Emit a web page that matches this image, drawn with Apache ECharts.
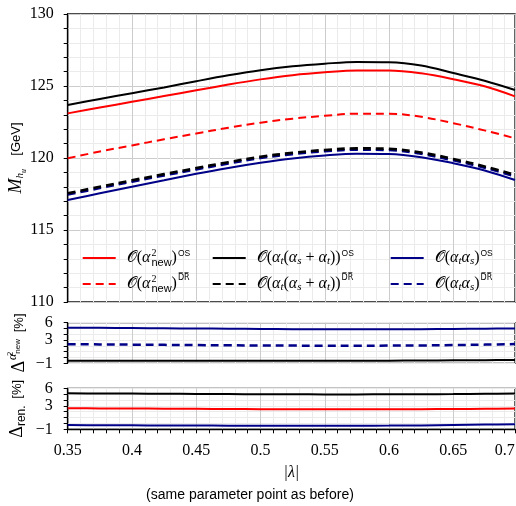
<!DOCTYPE html>
<html>
<head>
<meta charset="utf-8">
<script src="https://cdn.jsdelivr.net/npm/echarts@6/dist/echarts.min.js"></script>
<style>html,body{margin:0;padding:0;background:#fff}#c{width:516px;height:506px}</style>
</head>
<body>
<div id="c"></div>
<script>
// ---- data ----
const lambda = [0.35, 0.375, 0.4, 0.425, 0.45, 0.475, 0.5, 0.525, 0.55, 0.575, 0.6, 0.625, 0.65, 0.675, 0.698];

// top panel: M_hu [GeV]
const newOS   = [123.1, 123.5, 123.9, 124.3, 124.7, 125.1, 125.46, 125.75, 125.95, 126.08, 126.08, 125.88, 125.47, 124.96, 124.28];
const newDR   = [119.98, 120.45, 120.87, 121.3, 121.7, 122.1, 122.45, 122.73, 122.93, 123.08, 123.08, 122.86, 122.42, 121.9, 121.37];
const atsOS   = [123.68, 124.1, 124.5, 124.9, 125.33, 125.74, 126.1, 126.37, 126.55, 126.67, 126.65, 126.42, 125.9, 125.35, 124.72];
const atsDR   = [117.55, 118.0, 118.45, 118.88, 119.3, 119.71, 120.09, 120.36, 120.56, 120.67, 120.64, 120.38, 119.93, 119.4, 118.82];
const asOS    = [117.08, 117.55, 118.0, 118.45, 118.9, 119.31, 119.67, 119.97, 120.18, 120.3, 120.28, 120.06, 119.64, 119.12, 118.47];
const asDR    = [117.45, 117.9, 118.35, 118.78, 119.2, 119.61, 119.99, 120.26, 120.46, 120.57, 120.54, 120.28, 119.83, 119.3, 118.72];

// middle panel: Delta^{alpha^2_new} [%]
const dNewAsOS  = [5.15, 5.12, 5.08, 5.04, 5.0, 4.96, 4.92, 4.89, 4.87, 4.86, 4.86, 4.88, 4.92, 4.96, 5.02];
const dNewAsDR  = [2.3, 2.26, 2.22, 2.18, 2.14, 2.1, 2.07, 2.05, 2.04, 2.04, 2.05, 2.08, 2.14, 2.22, 2.32];
const dNewAtsOS = [-0.55, -0.56, -0.57, -0.58, -0.58, -0.58, -0.58, -0.58, -0.57, -0.56, -0.54, -0.52, -0.49, -0.46, -0.42];

// bottom panel: Delta_ren. [%]
const dRenAts = [5.15, 5.12, 5.1, 5.07, 5.04, 5.01, 4.99, 4.97, 4.96, 4.96, 4.97, 4.99, 5.02, 5.06, 5.1];
const dRenNew = [2.6, 2.57, 2.55, 2.52, 2.49, 2.46, 2.44, 2.42, 2.41, 2.41, 2.42, 2.44, 2.47, 2.5, 2.53];
const dRenAs  = [-0.27, -0.3, -0.32, -0.34, -0.36, -0.38, -0.39, -0.4, -0.4, -0.39, -0.37, -0.33, -0.27, -0.2, -0.14];

// tick labels
const xTickValues = [0.35, 0.4, 0.45, 0.5, 0.55, 0.6, 0.65, 0.69];
const xTickLabels = ['0.35', '0.4', '0.45', '0.5', '0.55', '0.6', '0.65', '0.7'];
const yTopTicks = [110, 115, 120, 125, 130];
const yResTickValues = [-1, 3, 6];
const yResTickLabels = ['\u22121', '3', '6'];

// ---- chart ----
const RED = '#ff0000', BLK = '#000000', BLU = '#000088';
const SERIF = 'Liberation Serif', SANS = 'Liberation Sans';
const pair = arr => lambda.map((x, i) => [x, arr[i]]);

const rich = {
  m0: {fontFamily: SERIF, fontSize: 16, color: '#000', lineHeight: 22, padding: [0, 0, 0, 6]},
  m: {fontFamily: SERIF, fontSize: 16, color: '#000', lineHeight: 22},
  it: {fontFamily: SERIF, fontStyle: 'italic', fontSize: 16, color: '#000', lineHeight: 22},
  sup0: {fontFamily: SERIF, fontSize: 10, color: '#000', width: 0, lineHeight: 22, verticalAlign: 'top', padding: [1, 0, 0, 1]},
  sub: {fontFamily: SANS, fontSize: 11, color: '#000', lineHeight: 22, verticalAlign: 'bottom', padding: [0, 0, 1, 0]},
  subi: {fontFamily: SERIF, fontStyle: 'italic', fontSize: 11, color: '#000', lineHeight: 22, verticalAlign: 'bottom', padding: [0, 0, 2, 0]},
  os: {fontFamily: SANS, fontSize: 8.5, color: '#000', lineHeight: 22, verticalAlign: 'top', padding: [2, 0, 0, 1]},
  dr: {fontFamily: 'DejaVu Sans', fontSize: 8, color: '#000', lineHeight: 22, verticalAlign: 'top', padding: [1, 0, 0, 1]}
};
const legendText = {
  os_new: '{m0|\u{1D4AA}(}{it|\u03B1}{sup0|2}{sub|new}{m|)}{os|OS}',
  dr_new: '{m0|\u{1D4AA}(}{it|\u03B1}{sup0|2}{sub|new}{m|)}{dr|D\u0305R\u0305}',
  os_ats: '{m0|\u{1D4AA}(}{it|\u03B1}{subi|t}{m|(}{it|\u03B1}{subi|s}{m| + }{it|\u03B1}{subi|t}{m|))}{os|OS}',
  dr_ats: '{m0|\u{1D4AA}(}{it|\u03B1}{subi|t}{m|(}{it|\u03B1}{subi|s}{m| + }{it|\u03B1}{subi|t}{m|))}{dr|D\u0305R\u0305}',
  os_as: '{m0|\u{1D4AA}(}{it|\u03B1}{subi|t}{it|\u03B1}{subi|s}{m|)}{os|OS}',
  dr_as: '{m0|\u{1D4AA}(}{it|\u03B1}{subi|t}{it|\u03B1}{subi|s}{m|)}{dr|D\u0305R\u0305}'
};
function mkLegend(left, names) {
  return {
    orient: 'vertical', left: left, top: 247, itemGap: 4, itemWidth: 33, itemHeight: 14,
    selectedMode: false, data: names, padding: 0,
    itemStyle: {opacity: 0, borderWidth: 0},
    formatter: n => legendText[n],
    textStyle: {rich: rich}
  };
}

const grids = [
  {left: 67.7, right: 1, top: 14, height: 288},
  {left: 67.7, right: 1, top: 322.7, height: 40.6},
  {left: 67.7, right: 1, top: 388.3, height: 41}
];
grids.forEach(g => {
  g.show = true; g.borderColor = '#111'; g.borderWidth = 1.3; g.backgroundColor = 'transparent';
  g.containLabel = false; g.outerBoundsMode = 'none';
});

const vMajor = '#cccccc', vMinor = '#ebebeb';
function xAxis(idx, showLabels) {
  return {
    type: 'value', gridIndex: idx, min: 0.35, max: 0.698, interval: 0.01,
    axisLine: {show: showLabels, onZero: false, lineStyle: {color: '#000', width: 1.3}},
    axisTick: {show: showLabels, length: 4, lineStyle: {color: '#000'}},
    axisLabel: {
      show: showLabels, margin: 13, fontFamily: SERIF, fontSize: 16, color: '#000',
      formatter: v => {
        const k = xTickValues.findIndex(t => Math.abs(t - v) < 1e-6);
        return k >= 0 ? xTickLabels[k] : '';
      }
    },
    splitLine: {show: true, lineStyle: {color: [vMajor, vMinor, vMinor, vMinor, vMinor], width: 1}},
    name: showLabels ? '|\u03BB|' : '', nameLocation: 'middle', nameGap: 35, nameMoveOverlap: false,
    nameTextStyle: {fontFamily: SERIF, fontStyle: 'italic', fontSize: 16, color: '#000'}
  };
}
function resYAxis(idx, name, gap) {
  return {
    type: 'value', gridIndex: idx, min: -1, max: 6, interval: 1,
    axisLine: {show: true, lineStyle: {color: '#000', width: 1.3}},
    axisTick: {show: true, length: 4, lineStyle: {color: '#000'}},
    axisLabel: {
      margin: 15, fontFamily: SERIF, fontSize: 16, color: '#000',
      formatter: v => {
        const k = yResTickValues.indexOf(v);
        return k >= 0 ? yResTickLabels[k] : '';
      }
    },
    splitLine: {show: true, lineStyle: {color: '#ebebeb'}},
    name: name, nameLocation: 'middle', nameRotate: 90, nameGap: gap, nameMoveOverlap: false,
    nameTextStyle: {rich: {
      m: {fontFamily: SERIF, fontSize: 18, color: '#000', lineHeight: 26},
      supi: {fontFamily: SERIF, fontStyle: 'italic', fontSize: 12, color: '#000', lineHeight: 26, verticalAlign: 'top', padding: [0, 0, 0, 1]},
      ss0: {fontFamily: SERIF, fontSize: 8, color: '#000', width: 0, lineHeight: 26, verticalAlign: 'top', padding: [0, 0, 0, 0]},
      ssub: {fontFamily: SANS, fontSize: 8, color: '#000', lineHeight: 26, verticalAlign: 'top', padding: [7, 0, 0, 0]},
      subs: {fontFamily: SANS, fontSize: 12, color: '#000', lineHeight: 26, verticalAlign: 'bottom', padding: [0, 0, 3, 0]},
      u: {fontFamily: SANS, fontSize: 13, color: '#000', lineHeight: 26}
    }}
  };
}

function line(name, data, color, dashed, xi, width) {
  return {
    name: name, type: 'line', xAxisIndex: xi, yAxisIndex: xi, data: pair(data),
    smooth: 0.35, symbol: 'none', silent: true, animation: false,
    lineStyle: {color: color, width: width || 2, type: dashed ? [8, 5] : 'solid'},
    itemStyle: {color: color}
  };
}

const option = {
  animation: false,
  grid: grids,
  title: {
    text: '(same parameter point as before)', left: 245, top: 483, textAlign: 'center',
    textStyle: {fontFamily: SANS, fontSize: 14, fontWeight: 'normal', color: '#000'}
  },
  legend: [
    mkLegend(81.7, ['os_new', 'dr_new']),
    mkLegend(211.7, ['os_ats', 'dr_ats']),
    mkLegend(389.7, ['os_as', 'dr_as'])
  ],
  xAxis: [xAxis(0, false), xAxis(1, false), xAxis(2, true)],
  yAxis: [
    {
      type: 'value', gridIndex: 0, min: 110, max: 130, interval: 1,
      axisLine: {show: true, lineStyle: {color: '#000', width: 1.3}},
      axisTick: {show: true, length: 4, lineStyle: {color: '#000'}},
      axisLabel: {
        margin: 14, fontFamily: SERIF, fontSize: 16, color: '#000',
        formatter: v => yTopTicks.indexOf(v) >= 0 ? String(v) : ''
      },
      splitLine: {show: true, lineStyle: {color: [vMajor, vMinor, vMinor, vMinor, vMinor]}},
      name: '{it|M}{sub|h}{sub2|u}    {u|[GeV]}', nameLocation: 'middle', nameRotate: 90, nameGap: 39,
      nameMoveOverlap: false,
      nameTextStyle: {rich: {
        it: {fontFamily: SERIF, fontStyle: 'italic', fontSize: 18, color: '#000', lineHeight: 24},
        sub: {fontFamily: SERIF, fontStyle: 'italic', fontSize: 11, color: '#000', lineHeight: 24, verticalAlign: 'bottom', padding: [0, 0, 3, 0]},
        sub2: {fontFamily: SERIF, fontStyle: 'italic', fontSize: 8, color: '#000', lineHeight: 24, verticalAlign: 'bottom', padding: [0, 0, 1, 0]},
        u: {fontFamily: SANS, fontSize: 13, color: '#000', lineHeight: 24}
      }}
    },
    resYAxis(1, '{m|\u0394}{supi|\u03B1}{ss0|2}{ssub|new}  {u|[%]}', 35),
    resYAxis(2, '{m|\u0394}{subs|ren.}  {u|[%]}', 37)
  ],
  series: [
    line('os_new', newOS, RED, false, 0),
    line('dr_new', newDR, RED, true, 0),
    line('os_as', asOS, BLU, false, 0),
    line('dr_as', asDR, BLU, true, 0, 2.3),
    line('os_ats', atsOS, BLK, false, 0),
    line('dr_ats', atsDR, BLK, true, 0, 2.6),
    line('m_as_os', dNewAsOS, BLU, false, 1),
    line('m_as_dr', dNewAsDR, BLU, true, 1, 2.5),
    line('m_ats_os', dNewAtsOS, BLK, false, 1),
    line('b_ats', dRenAts, BLK, false, 2),
    line('b_new', dRenNew, RED, false, 2),
    line('b_as', dRenAs, BLU, false, 2)
  ]
};
const chart = echarts.init(document.getElementById('c'), null, {renderer: 'canvas'});
chart.setOption(option);
</script>
</body>
</html>
